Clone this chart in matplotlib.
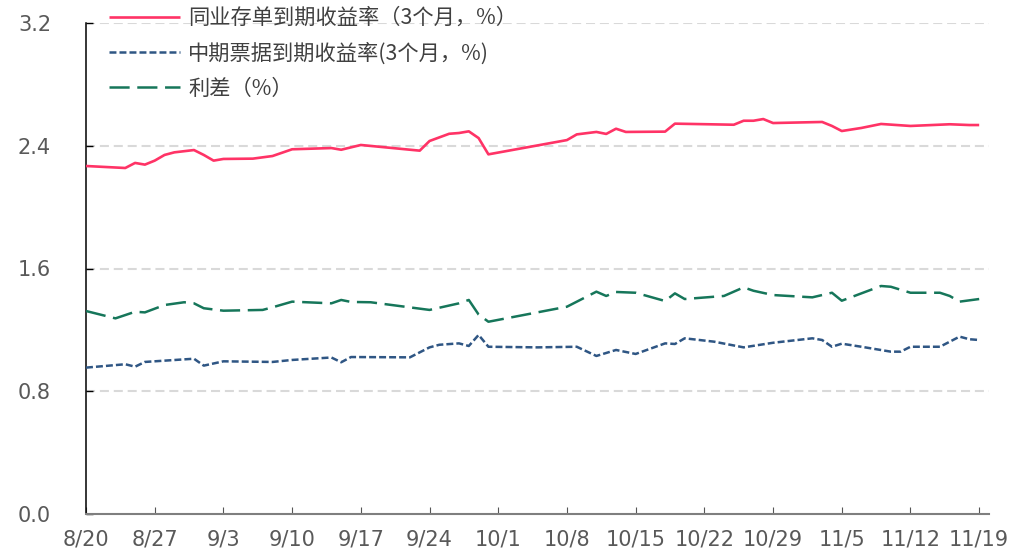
import matplotlib
matplotlib.use("Agg")
import matplotlib.pyplot as plt

plt.rcParams['font.family'] = ['DejaVu Sans']
plt.rcParams['lines.scale_dashes'] = False

# ---- data (x = days since 8/20) ----
red_days = [0, 4, 5, 6, 7, 8, 9, 11, 12, 13, 14, 17, 19, 21, 25, 26, 28, 34, 35, 37, 38, 39, 40, 41,
            49, 50, 52, 53, 54, 55, 59, 60, 66, 67, 68, 69, 70, 75, 76, 77, 79, 81, 84, 88, 90, 91]
red_vals = [2.268, 2.255, 2.288, 2.277, 2.303, 2.340, 2.357, 2.372, 2.340, 2.303, 2.314, 2.316, 2.333,
            2.377, 2.385, 2.374, 2.405, 2.368, 2.431, 2.478, 2.483, 2.494, 2.450, 2.344,
            2.437, 2.474, 2.490, 2.477, 2.511, 2.490, 2.492, 2.544, 2.537, 2.563, 2.563, 2.574,
            2.548, 2.555, 2.529, 2.496, 2.516, 2.542, 2.529, 2.540, 2.535, 2.535]

blue_days = [0, 4, 5, 6, 11, 12, 14, 19, 21, 25, 26, 27, 33, 35, 36, 38, 39, 40, 41, 46, 50, 52, 54,
             56, 59, 60, 61, 64, 67, 70, 74, 75, 76, 77, 79, 82, 83, 84, 87, 89, 90, 91]
blue_vals = [0.954, 0.976, 0.960, 0.991, 1.012, 0.967, 0.995, 0.991, 1.004, 1.020, 0.989, 1.023, 1.021,
             1.086, 1.103, 1.112, 1.095, 1.167, 1.090, 1.086, 1.090, 1.030, 1.069, 1.043, 1.112,
             1.108, 1.145, 1.123, 1.086, 1.116, 1.145, 1.134, 1.090, 1.110, 1.090, 1.058, 1.058,
             1.090, 1.090, 1.156, 1.139, 1.134]

green_days = [0, 3, 5, 6, 8, 10, 11, 12, 14, 18, 19, 21, 25, 26, 27, 29, 35, 38, 39, 40, 41, 49, 52,
              53, 54, 56, 59, 60, 61, 65, 67, 68, 70, 74, 76, 77, 79, 81, 82, 84, 87, 88, 89, 91]
green_vals = [1.323, 1.275, 1.318, 1.314, 1.362, 1.380, 1.373, 1.341, 1.325, 1.330, 1.347, 1.384,
              1.373, 1.395, 1.382, 1.380, 1.330, 1.373, 1.395, 1.300, 1.253, 1.351, 1.449, 1.421,
              1.447, 1.442, 1.388, 1.438, 1.401, 1.421, 1.477, 1.455, 1.427, 1.412, 1.442, 1.390,
              1.438, 1.486, 1.481, 1.442, 1.442, 1.421, 1.384, 1.401]

series_names = ['同业存单到期收益率（3个月，%）', '中期票据到期收益率(3个月，%)', '利差（%）']
xtick_pos = [0, 7, 14, 21, 28, 35, 42, 49, 56, 63, 70, 77, 84, 91]
xtick_labels = ['8/20', '8/27', '9/3', '9/10', '9/17', '9/24', '10/1', '10/8', '10/15',
                '10/22', '10/29', '11/5', '11/12', '11/19']
ytick_pos = [0.0, 0.8, 1.6, 2.4, 3.2]
ytick_labels = ['0.0', '0.8', '1.6', '2.4', '3.2']

# ---- figure ----
fig = plt.figure(figsize=(10.24, 5.53), dpi=100)
ax = fig.add_axes([86/1024, 1-514/553, (989-86)/1024, (514-23)/553])

red_c = '#FF3366'
blue_c = '#2F5684'
green_c = '#16765A'

for yv in ytick_pos[1:]:
    ax.axhline(yv, color='#D9D9D9', lw=1.5, dashes=(6.5, 3.5), zorder=1)

l1, = ax.plot(red_days, red_vals, color=red_c, lw=1.9, solid_capstyle='butt', zorder=3)
l2, = ax.plot(blue_days, blue_vals, color=blue_c, lw=1.8, dashes=(5, 2.2), zorder=3)
l3, = ax.plot(green_days, green_vals, color=green_c, lw=1.8, dashes=(14.5, 5.5), zorder=3)

ax.set_xlim(0, 92)
ax.set_ylim(0, 3.2)
ax.set_xticks(xtick_pos)
ax.set_xticklabels(xtick_labels)
ax.set_yticks(ytick_pos)
ax.set_yticklabels(ytick_labels)

for s in ['top', 'right']:
    ax.spines[s].set_visible(False)
ax.spines['left'].set_color('black')
ax.spines['left'].set_linewidth(1.1)
ax.spines['bottom'].set_color('#7F7F7F')
ax.spines['bottom'].set_linewidth(1.5)

ax.tick_params(axis='x', direction='in', length=5, width=0.8, color='#555555',
               labelsize=15, labelcolor='#595959', pad=11)
ax.tick_params(axis='y', direction='in', length=5, width=1.0, color='black',
               labelsize=15, labelcolor='#595959', pad=49)
for lab in ax.get_yticklabels():
    lab.set_horizontalalignment('left')

leg = fig.legend([l1, l2, l3], series_names, loc='upper left',
                 bbox_to_anchor=(109/1024, 1 - 7/553), frameon=False,
                 prop={'family': ['Noto Sans CJK SC', 'DejaVu Sans'], 'size': 15.3},
                 handlelength=3.34, handletextpad=0.38, labelspacing=0.62,
                 borderpad=0, borderaxespad=0)
for t in leg.get_texts():
    t.set_color('#404040')

fig.savefig('out.png', dpi=100)
